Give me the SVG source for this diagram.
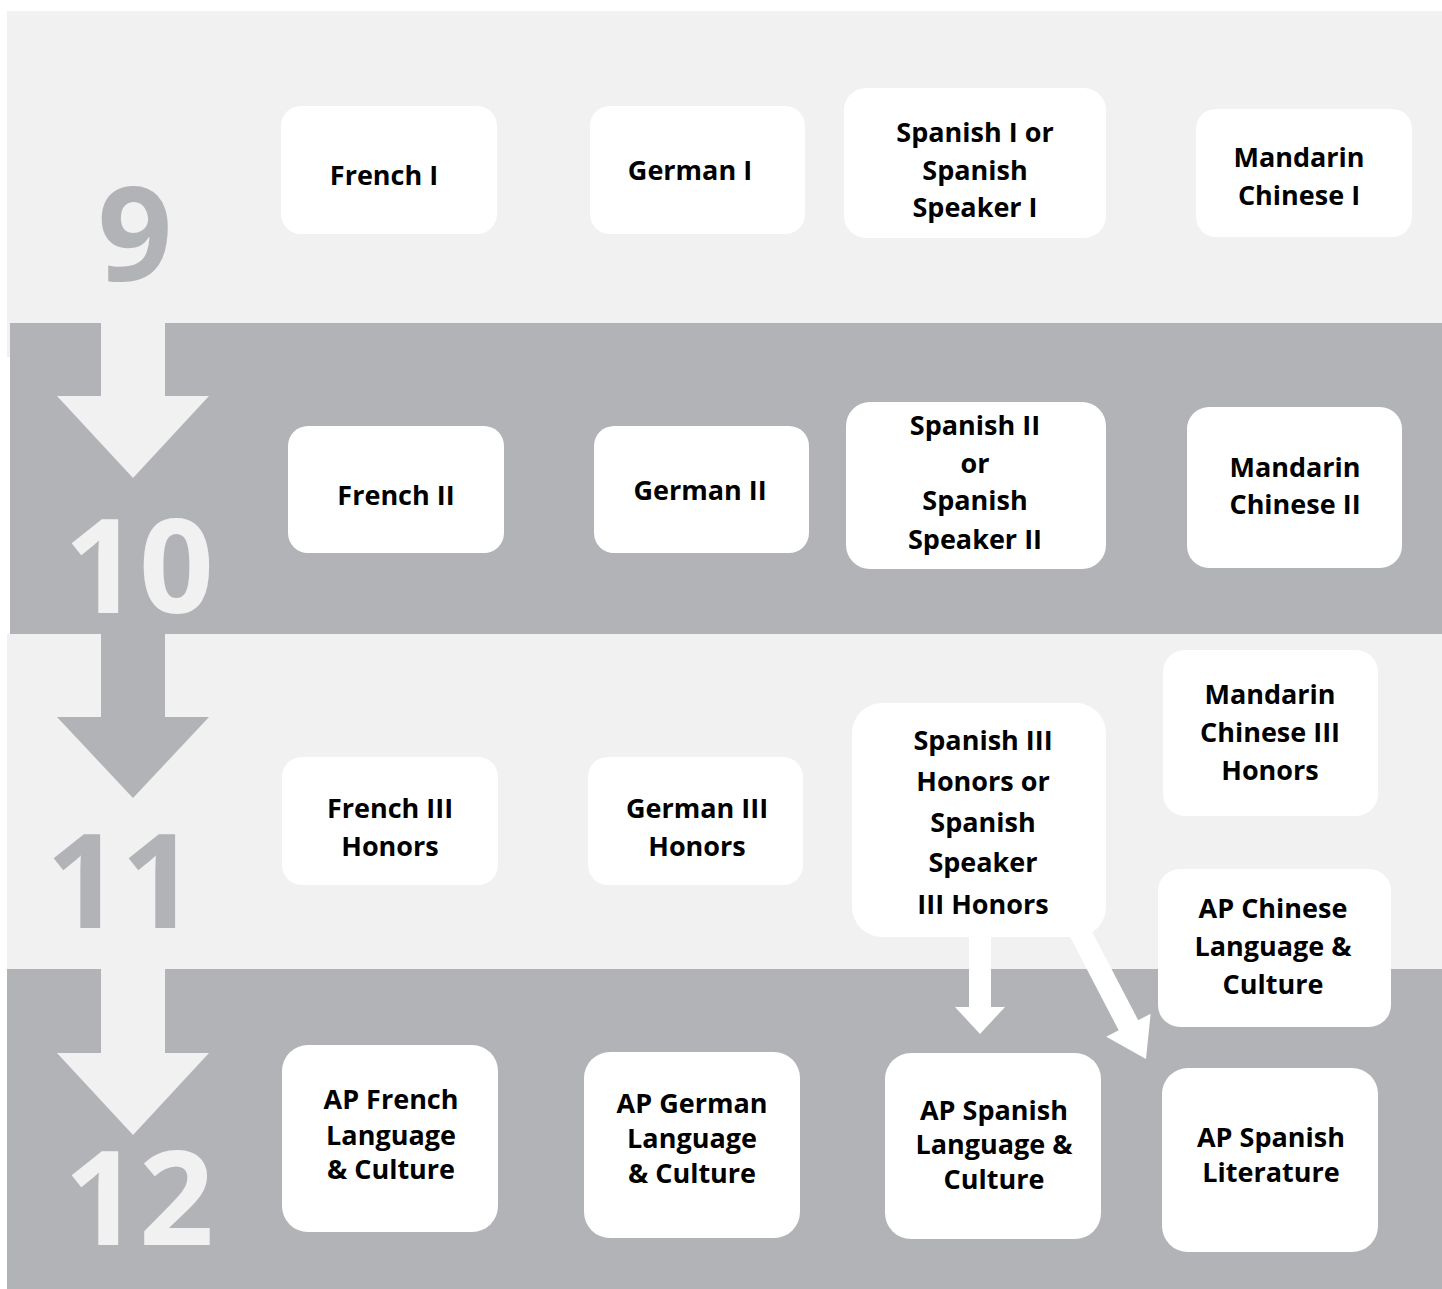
<svg xmlns="http://www.w3.org/2000/svg" width="1442" height="1289" viewBox="0 0 1442 1289">
<style>
.light{fill:#f0f1f0}
.dark{fill:#b2b3b6}
.box{fill:#ffffff}
.lbl{font-family:"Open Sans","Liberation Sans",sans-serif;font-weight:700;font-size:27px;fill:#000;text-anchor:middle}
.num{font-family:"Open Sans","Liberation Sans",sans-serif;font-weight:700;font-size:131px;text-anchor:middle}
.conn{fill:#ffffff}
</style>
<rect x="0" y="0" width="1442" height="1289" fill="#ffffff"/>
<g id="bands">
<rect class="light" x="7" y="11" width="1435" height="312"/>
<rect class="light" x="7" y="323" width="3" height="34"/>
<rect class="dark" x="10" y="323" width="1432" height="311"/>
<rect class="light" x="7" y="634" width="1435" height="335"/>
<rect class="dark" x="7" y="969" width="1435" height="320"/>
</g>
<g id="grade-arrows">
<polygon class="light" points="101,323 165,323 165,396 209,396 133,478 57,396 101,396"/>
<polygon class="dark" points="101,634 165,634 165,717 209,717 133,798 57,717 101,717"/>
<polygon class="light" points="101,969 165,969 165,1053 209,1053 133,1135 57,1053 101,1053"/>
</g>
<g id="grades">
<text class="num" x="135" y="281" fill="#b2b3b6">9</text>
<text class="num" x="139" y="613" fill="#f0f1f0">10</text>
<text class="num" x="121" y="928" fill="#b2b3b6">11</text>
<text class="num" x="139" y="1245" fill="#f0f1f0">12</text>
</g>
<g id="connectors">
<polygon class="conn" points="969,925 991,925 991,1007 1005,1007 980,1034 955,1007 969,1007"/>
<polygon class="conn" points="1135,900 1157,900 1157,1021 1171,1021 1146,1059 1121,1021 1135,1021" transform="rotate(-27.5 1146 1059)"/>
</g>
<g id="french1"><rect class="box" x="281" y="106" width="216" height="128" rx="20"/><text class="lbl" x="384" y="185">French I</text></g>
<g id="german1"><rect class="box" x="590" y="106" width="215" height="128" rx="20"/><text class="lbl" x="690" y="180">German I</text></g>
<g id="spanish1"><rect class="box" x="844" y="88" width="262" height="150" rx="22"/><text class="lbl" x="975" y="142">Spanish I or</text><text class="lbl" x="975" y="180">Spanish</text><text class="lbl" x="975" y="217">Speaker I</text></g>
<g id="mandarin1"><rect class="box" x="1196" y="109" width="216" height="128" rx="20"/><text class="lbl" x="1299" y="167">Mandarin</text><text class="lbl" x="1299" y="205">Chinese I</text></g>
<g id="french2"><rect class="box" x="288" y="426" width="216" height="127" rx="20"/><text class="lbl" x="396" y="505">French II</text></g>
<g id="german2"><rect class="box" x="594" y="426" width="215" height="127" rx="20"/><text class="lbl" x="700" y="500">German II</text></g>
<g id="spanish2"><rect class="box" x="846" y="402" width="260" height="167" rx="24"/><text class="lbl" x="975" y="435">Spanish II</text><text class="lbl" x="975" y="473">or</text><text class="lbl" x="975" y="510">Spanish</text><text class="lbl" x="975" y="549">Speaker II</text></g>
<g id="mandarin2"><rect class="box" x="1187" y="407" width="215" height="161" rx="22"/><text class="lbl" x="1295" y="477">Mandarin</text><text class="lbl" x="1295" y="514">Chinese II</text></g>
<g id="french3"><rect class="box" x="282" y="757" width="216" height="128" rx="20"/><text class="lbl" x="390" y="818">French III</text><text class="lbl" x="390" y="856">Honors</text></g>
<g id="german3"><rect class="box" x="588" y="757" width="215" height="128" rx="20"/><text class="lbl" x="697" y="818">German III</text><text class="lbl" x="697" y="856">Honors</text></g>
<g id="spanish3"><rect class="box" x="852" y="703" width="254" height="234" rx="30"/><text class="lbl" x="983" y="750">Spanish III</text><text class="lbl" x="983" y="791">Honors or</text><text class="lbl" x="983" y="832">Spanish</text><text class="lbl" x="983" y="872">Speaker</text><text class="lbl" x="983" y="914">III Honors</text></g>
<g id="mandarin3"><rect class="box" x="1163" y="650" width="215" height="166" rx="22"/><text class="lbl" x="1270" y="704">Mandarin</text><text class="lbl" x="1270" y="742">Chinese III</text><text class="lbl" x="1270" y="780">Honors</text></g>
<g id="apchinese"><rect class="box" x="1158" y="869" width="233" height="158" rx="22"/><text class="lbl" x="1273" y="918">AP Chinese</text><text class="lbl" x="1273" y="956">Language &amp;</text><text class="lbl" x="1273" y="994">Culture</text></g>
<g id="apfrench"><rect class="box" x="282" y="1045" width="216" height="187" rx="26"/><text class="lbl" x="391" y="1109">AP French</text><text class="lbl" x="391" y="1145">Language</text><text class="lbl" x="391" y="1179">&amp; Culture</text></g>
<g id="apgerman"><rect class="box" x="584" y="1052" width="216" height="186" rx="26"/><text class="lbl" x="692" y="1113">AP German</text><text class="lbl" x="692" y="1148">Language</text><text class="lbl" x="692" y="1183">&amp; Culture</text></g>
<g id="apspanishlang"><rect class="box" x="885" y="1053" width="216" height="186" rx="26"/><text class="lbl" x="994" y="1120">AP Spanish</text><text class="lbl" x="994" y="1154">Language &amp;</text><text class="lbl" x="994" y="1189">Culture</text></g>
<g id="apspanishlit"><rect class="box" x="1162" y="1068" width="216" height="184" rx="26"/><text class="lbl" x="1271" y="1147">AP Spanish</text><text class="lbl" x="1271" y="1182">Literature</text></g>
</svg>
